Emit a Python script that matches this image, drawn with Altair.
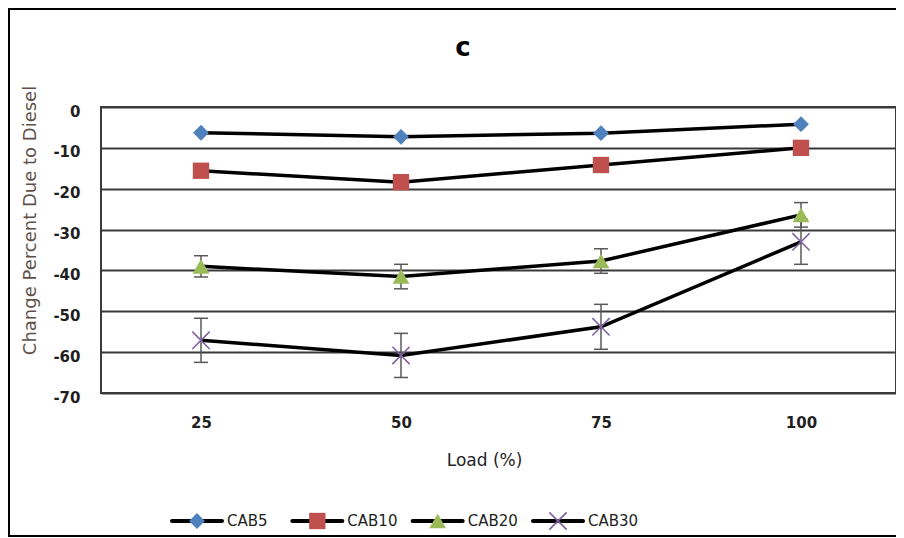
import altair as alt
import pandas as pd

# ---- data ----
loads = ["25", "50", "75", "100"]
series = ["CAB5", "CAB10", "CAB20", "CAB30"]
cab5 = [-6.3, -7.3, -6.4, -4.2]
cab10 = [-15.6, -18.4, -14.2, -10.0]
cab20 = [-39.0, -41.5, -37.7, -26.4]
cab30 = [-57.1, -60.8, -53.8, -33.0]
cab5_err = [0, 0, 0, 0]
cab10_err = [0, 0, 0, 0]
cab20_err = [2.6, 3.0, 3.0, 3.0]
cab30_err = [5.4, 5.4, 5.5, 5.5]
colors = ["#4F81BD", "#C0504D", "#9BBB59", "#8064A2"]
y_ticks = [0, -10, -20, -30, -40, -50, -60, -70]
title_text = "c"
x_title = "Load (%)"
y_title = "Change Percent Due to Diesel"

FONT = "DejaVu Sans"
LABEL_COLOR = "#1F1F1F"
CROSS = "M-1,-1L1,1M1,-1L-1,1"

rows = []
for s, vals, errs in zip(series, [cab5, cab10, cab20, cab30],
                         [cab5_err, cab10_err, cab20_err, cab30_err]):
    for l, v, e in zip(loads, vals, errs):
        rows.append({"series": s, "load": l, "value": v, "err": e,
                     "lo": v - e, "hi": v + e})
df = pd.DataFrame(rows)
err_df = df[df["err"] > 0]
filled_df = df[df["series"] != "CAB30"]
cross_df = df[df["series"] == "CAB30"]
legend_df = pd.DataFrame({"series": series})
one = pd.DataFrame({"k": [0]})

x_scale = alt.Scale(type="point", padding=0.4875, align=0.5128)
x_enc = alt.X(
    "load:N", sort=loads, scale=x_scale,
    axis=alt.Axis(
        title=x_title, labelAngle=0, ticks=False, tickSize=0, domain=False,
        labelFont=FONT, labelFontSize=15, labelFontWeight="bold",
        labelColor=LABEL_COLOR, labelPadding=22,
        titleFont=FONT, titleFontSize=17, titleFontWeight="normal",
        titleColor=LABEL_COLOR, titleX=383, titleY=67,
        titleBaseline="middle", titleAlign="center",
    ),
)
y_scale = alt.Scale(domain=[-70, 0], nice=False, zero=False)
y_enc = alt.Y(
    "value:Q", scale=y_scale,
    axis=alt.Axis(
        title=y_title, values=y_ticks, grid=True, gridColor="#3A3A3A",
        gridWidth=2, ticks=False, tickSize=0, domain=False,
        labelExpr="replace(datum.label, '\u2212', '-')",
        labelFont=FONT, labelFontSize=15, labelFontWeight="bold",
        labelColor=LABEL_COLOR, labelPadding=21, labelOffset=4,
        titleFont=FONT, titleFontSize=18, titleFontWeight="normal",
        titleColor="#5E5048", titleX=-71, titleY=113, titleAngle=-90,
        titleAlign="center", titleBaseline="middle",
    ),
)

frame = alt.Chart(one).mark_rect(
    fill="transparent", stroke="#000000", strokeWidth=2
).encode(
    x=alt.value(-92), x2=alt.value(830), y=alt.value(-98), y2=alt.value(429)
)

title = alt.Chart(one).mark_text(
    text=title_text, font=FONT, fontSize=26, fontWeight="bold",
    color="#000000", align="center", baseline="alphabetic"
).encode(x=alt.value(362), y=alt.value(-51))

lines = alt.Chart(df).mark_line(
    color="#000000", strokeWidth=3.5
).encode(x=x_enc, y=y_enc, detail="series:N")

err_rule = alt.Chart(err_df).mark_rule(color="#595959", strokeWidth=1.5).encode(
    x=alt.X("load:N", sort=loads), y="lo:Q", y2="hi:Q"
)
err_lo = alt.Chart(err_df).mark_tick(
    orient="horizontal", size=14, thickness=1.5, color="#595959", opacity=1
).encode(x=alt.X("load:N", sort=loads), y="lo:Q")
err_hi = alt.Chart(err_df).mark_tick(
    orient="horizontal", size=14, thickness=1.5, color="#595959", opacity=1
).encode(x=alt.X("load:N", sort=loads), y="hi:Q")

color_scale = alt.Scale(domain=series, range=colors)
shape_scale = alt.Scale(domain=series, range=["diamond", "square", "triangle-up", CROSS])
size_scale = alt.Scale(domain=series, range=[250, 300, 260, 190])

pts = alt.Chart(filled_df).mark_point(filled=True, opacity=1).encode(
    x=alt.X("load:N", sort=loads), y="value:Q",
    color=alt.Color("series:N", scale=color_scale, legend=None),
    shape=alt.Shape("series:N", scale=shape_scale, legend=None),
    size=alt.Size("series:N", scale=size_scale, legend=None),
)
crosses = alt.Chart(cross_df).mark_point(filled=False, opacity=1, strokeWidth=1.6).encode(
    x=alt.X("load:N", sort=loads), y="value:Q",
    color=alt.Color("series:N", scale=color_scale, legend=None),
    shape=alt.Shape("series:N", scale=shape_scale, legend=None),
    size=alt.Size("series:N", scale=size_scale, legend=None),
)

main = alt.layer(frame, title, lines, err_rule, err_lo, err_hi, pts, crosses)

# ---- legend drawn as a layer with its own x scale ----
lx = alt.X("series:N", sort=series,
           scale=alt.Scale(type="point", padding=0, range=[96, 457]), axis=None)
leg_line = alt.Chart(legend_df).mark_tick(
    orient="horizontal", size=54, thickness=4, color="#000000", opacity=1,
    cornerRadius=2
).encode(x=lx, y=alt.value(414))
leg_pts = alt.Chart(legend_df).transform_filter(
    alt.datum.series != "CAB30"
).mark_point(filled=True, opacity=1).encode(
    x=lx, y=alt.value(414),
    color=alt.Color("series:N", scale=color_scale, legend=None),
    shape=alt.Shape("series:N", scale=shape_scale, legend=None),
    size=alt.Size("series:N", scale=size_scale, legend=None),
)
leg_cross = alt.Chart(legend_df).transform_filter(
    alt.datum.series == "CAB30"
).mark_point(filled=False, opacity=1, strokeWidth=1.6).encode(
    x=lx, y=alt.value(414),
    color=alt.Color("series:N", scale=color_scale, legend=None),
    shape=alt.Shape("series:N", scale=shape_scale, legend=None),
    size=alt.Size("series:N", scale=size_scale, legend=None),
)
leg_text = alt.Chart(legend_df).mark_text(
    align="left", baseline="middle", dx=30, font=FONT, fontSize=15,
    color=LABEL_COLOR
).encode(x=lx, y=alt.value(414), text="series:N")
legend = alt.layer(leg_line, leg_pts, leg_cross, leg_text)

chart = alt.layer(main, legend).resolve_scale(x="independent").properties(
    width=795, height=286,
    padding={"left": 93, "top": 99, "right": 0, "bottom": 145},
    autosize=alt.AutoSizeParams(type="none"),
    background="#FFFFFF",
).configure_view(stroke="#3A3A3A", strokeWidth=2)

chart.save("out.html", embed_options={"renderer": "svg", "actions": False})
